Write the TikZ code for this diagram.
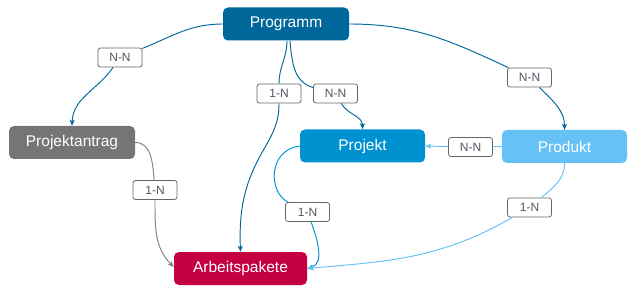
\documentclass[tikz,border=0pt]{standalone}
\usepackage{fontspec}
\setmainfont{Liberation Sans}
\usetikzlibrary{arrows.meta}
\definecolor{cprog}{RGB}{0,103,155}
\definecolor{cantrag}{RGB}{117,117,117}
\definecolor{cprojekt}{RGB}{0,146,208}
\definecolor{cprodukt}{RGB}{102,194,245}
\definecolor{carb}{RGB}{196,0,64}
\definecolor{cline}{RGB}{128,128,128}
\definecolor{ctext}{RGB}{85,85,100}
\begin{document}
\begin{tikzpicture}[x=1pt,y=-1pt,
  box/.style={rectangle,rounded corners=5pt,inner sep=0pt,minimum height=33pt,
    text=white,font=\fontsize{15.5}{18}\selectfont},
  lab/.style={rectangle,rounded corners=2.5pt,draw=black!60,line width=0.8pt,fill=white,
    inner sep=0pt,minimum width=44pt,minimum height=19pt,text=ctext,
    font=\fontsize{12}{14}\selectfont},
  conn/.style={line width=0.95pt},
  tip/.style={-{Stealth[length=6pt,width=5pt,inset=1.5pt]}}
]
\useasboundingbox (0,0) rectangle (636,296);
% boxes
\node[box,fill=cprog,minimum width=126pt] (prog) at (286,24) {Programm};
\node[box,fill=cantrag,minimum width=126pt] (pa) at (72,142.5) {Projektantrag};
\node[box,fill=cprojekt,minimum width=125pt] (pj) at (362.5,146) {Projekt};
\node[box,fill=cprodukt,minimum width=125pt] (pd) at (564.5,146.5) {Produkt};
\node[box,fill=carb,minimum width=133pt] (ap) at (240.5,268.5) {Arbeitspakete};
% labels
\node[lab] (l1) at (120,57.5) {N-N};
\node[lab] (l2) at (279,93.5) {1-N};
\node[lab] (l3) at (335.5,93.5) {N-N};
\node[lab] (l4) at (529.5,77.5) {N-N};
\node[lab] (l5) at (470.5,147) {N-N};
\node[lab] (l6) at (155,190) {1-N};
\node[lab] (l7) at (307.5,212) {1-N};
\node[lab] (l8) at (529.5,207.5) {1-N};
\coordinate (b2) at (264,149);
% Programm -> Projektantrag
\draw[conn,cprog] (prog.west) to[out=180,in=22] (l1);
\draw[conn,cprog,tip] (l1) to[out=235,in=88] (pa.north);
% Programm -> Arbeitspakete
\draw[conn,cprog] ([xshift=1pt]prog.south) to[out=-90,in=90] (l2);
\draw[conn,cprog] (l2) to[out=-90,in=60] (b2);
\draw[conn,cprog,tip] (b2) to[out=-120,in=92] (ap.north);
% Programm -> Projekt
\draw[conn,cprog] ([xshift=4pt]prog.south) to[out=-85,in=165] (l3);
\draw[conn,cprog,tip] (l3) to[out=-60,in=90] (pj.north);
% Programm -> Produkt
\draw[conn,cprog] (prog.east) to[out=0,in=155] (l4);
\draw[conn,cprog,tip] (l4) to[out=-45,in=90] (pd.north);
% Produkt -> Projekt
\draw[conn,cprodukt] (pd.west) -- (l5);
\draw[conn,cprodukt,tip] (l5) -- (pj.east);
% Projektantrag -> Arbeitspakete
\draw[conn,cline] (pa.east) to[out=0,in=95] (l6);
\draw[conn,cline,tip] (l6) to[out=-90,in=135] ([yshift=1.5pt]ap.west);
% Projekt -> Arbeitspakete
\draw[conn,cprojekt] (pj.west) .. controls (268,150) and (268,192) .. (l7);
\draw[conn,cprojekt,tip] (l7) to[out=-70,in=15] (ap.east);
% Produkt -> Arbeitspakete
\draw[conn,cprodukt] (pd.south) to[out=-90,in=40] (l8);
\draw[conn,cprodukt,tip] (l8) to[out=210,in=5] (ap.east);
\end{tikzpicture}
\end{document}
